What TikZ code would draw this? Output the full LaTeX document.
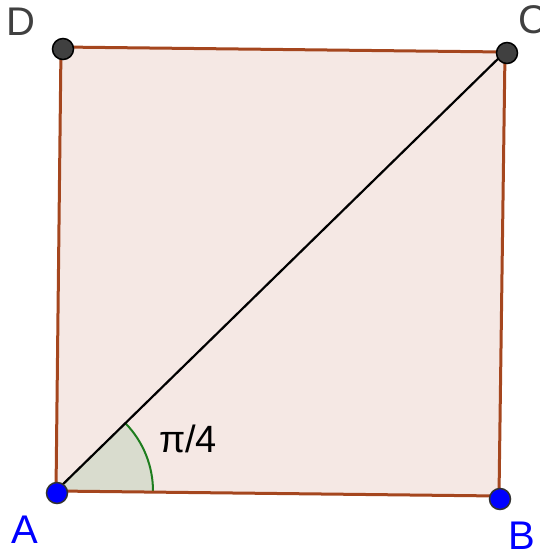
\documentclass[tikz,border=0pt]{standalone}
\usepackage{fontspec}
\setmainfont{Liberation Sans}
\usetikzlibrary{angles,calc}
\definecolor{sqfill}{RGB}{245,232,228}
\definecolor{sqedge}{RGB}{165,70,30}
\definecolor{angfill}{RGB}{217,220,206}
\definecolor{angedge}{RGB}{30,125,30}
\definecolor{ptgrey}{RGB}{64,64,64}
\definecolor{ptblue}{RGB}{0,0,255}
\tikzset{
  ptfree/.style={circle,fill=ptblue,draw=black!80,line width=1.5pt,minimum size=21pt,inner sep=0pt},
  ptdep/.style={circle,fill=ptgrey,draw=black,line width=1.5pt,minimum size=21pt,inner sep=0pt},
  lbl/.style={font=\fontsize{40}{40}\selectfont,inner sep=0pt},
}
\begin{document}
\begin{tikzpicture}[x=1pt,y=-1pt]
\useasboundingbox (0,0) rectangle (539,552);
\coordinate (A) at (56,491);
\coordinate (B) at (499,496);
\coordinate (C) at (505,52);
\coordinate (D) at (61,47);
\fill[sqfill] (A) -- (B) -- (C) -- (D) -- cycle;
\pic[fill=angfill,draw=none,angle radius=97pt] {angle=B--A--C};
\draw[angedge,line width=2pt] ($(A)!97pt!(B)$) arc[start angle=-0.65,end angle=44.35,radius=97pt];
\draw[sqedge,line width=3pt] (A) -- (B) -- (C) -- (D) -- cycle;
\draw[black,line width=2.2pt] (A) -- (C);
\node[ptfree] (pA) at (57,493) {};
\node[ptfree] (pB) at (500,499) {};
\node[ptdep] (pC) at (507,53) {};
\node[ptdep] (pD) at (63,49) {};
\node[lbl,text=ptgrey] (lD) at (21,22) {D};
\node[lbl,text=ptgrey] (lC) at (533,20) {C};
\node[lbl,text=ptblue] (lA) at (25,530) {A};
\node[lbl,text=ptblue] (lB) at (522,536) {B};
\node[font=\fontsize{38}{38}\selectfont,inner sep=0pt] (ang) at (188,439) {π/4};
\end{tikzpicture}
\end{document}
